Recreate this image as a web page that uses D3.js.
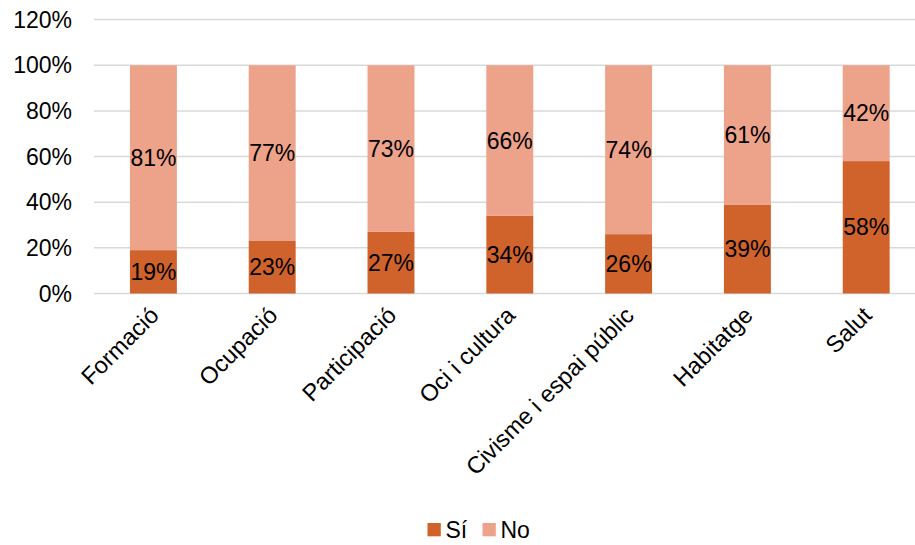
<!DOCTYPE html>
<html><head><meta charset="utf-8">
<script src="https://cdn.jsdelivr.net/npm/d3@7"></script>
<style>body{margin:0;background:#fff}svg{display:block;font-family:"Liberation Sans",Arial,sans-serif}</style>
</head><body><svg id="c" width="915" height="545"></svg>
<script>
const categories = ["Formació","Ocupació","Participació","Oci i cultura","Civisme i espai públic","Habitatge","Salut"];
const si = [19,23,27,34,26,39,58];
const no = [81,77,73,66,74,61,42];
const yTicks = [0,20,40,60,80,100,120];
const seriesNames = ["Sí","No"];
const colors = ["#D0622B","#EDA28A"];

const FS = 23;
const svg = d3.select("#c");
const x = d3.scaleBand().domain(categories).range([94,925.6]).paddingInner(0.605).paddingOuter(0.3025);
const y = d3.scaleLinear().domain([0,120]).range([293.5,19.6]);

svg.append("g").selectAll("line").data(yTicks).join("line")
  .attr("x1",94).attr("x2",915).attr("y1",d=>y(d)).attr("y2",d=>y(d))
  .attr("stroke","#D9D9D9").attr("stroke-width",1.5);

svg.append("g").selectAll("text").data(yTicks).join("text")
  .attr("x",72).attr("y",d=>y(d)).attr("dy","0.35em").attr("text-anchor","end")
  .attr("font-size",FS).attr("fill","#000").text(d=>d+"%");

const rows = categories.map((c,i)=>({cat:c, "Sí":si[i], "No":no[i]}));
const stack = d3.stack().keys(seriesNames)(rows);

const g = svg.append("g");
stack.forEach((s,k)=>{
  g.append("g").selectAll("rect").data(s).join("rect")
    .attr("x",d=>x(d.data.cat)).attr("width",x.bandwidth())
    .attr("y",d=>y(d[1])).attr("height",d=>y(d[0])-y(d[1]))
    .attr("fill",colors[k]);
  g.append("g").selectAll("text").data(s).join("text")
    .attr("x",d=>x(d.data.cat)+x.bandwidth()/2).attr("y",d=>y((d[0]+d[1])/2))
    .attr("dy","0.35em").attr("text-anchor","middle").attr("font-size",FS).attr("fill","#000")
    .text(d=>(d[1]-d[0])+"%");
});

svg.append("g").selectAll("text").data(categories).join("text")
  .attr("text-anchor","end").attr("font-size",23.5).attr("fill","#000")
  .attr("transform",d=>`translate(${x(d)+x.bandwidth()/2+1},${311}) rotate(-45)`)
  .attr("dy","0.35em").text(d=>d);

const leg = svg.append("g");
const legX = [427.5,482.5];
seriesNames.forEach((n,i)=>{
  leg.append("rect").attr("x",legX[i]).attr("y",523).attr("width",13.3).attr("height",13.3).attr("fill",colors[i]);
  leg.append("text").attr("x",legX[i]+18).attr("y",529.5).attr("dy","0.35em").attr("font-size",FS).attr("fill","#000").text(n);
});
</script></body></html>
